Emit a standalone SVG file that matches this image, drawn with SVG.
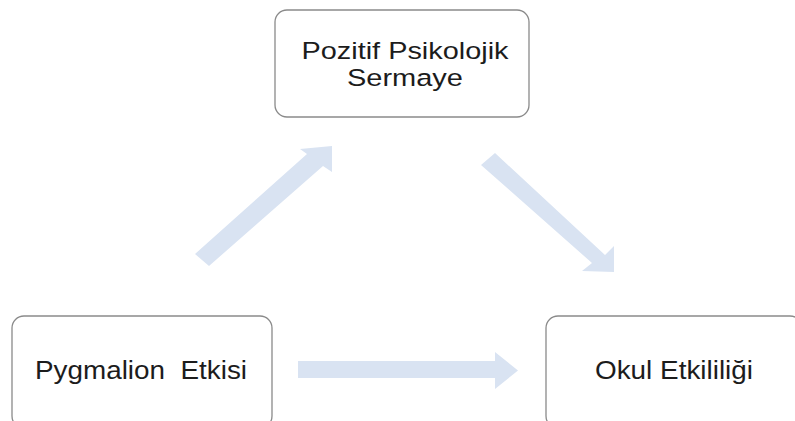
<svg xmlns="http://www.w3.org/2000/svg" width="795" height="421" viewBox="0 0 795 421">
  <style>
    .box { fill: #ffffff; stroke: #8a8a8a; stroke-width: 1.3; }
    .label { font-family: "Liberation Sans", Arial, sans-serif; font-size: 25px; fill: #1c1c1c; text-anchor: middle; }
    .tight { font-size: 24.5px; }
    .arrow { fill: #d9e3f2; stroke: none; }
  </style>
  <rect width="795" height="421" fill="#ffffff"/>

  <!-- block arrows between the three concepts -->
  <g id="connectors">
    <polygon class="arrow" points="195,254 307,154 300,149 332,146 332,172 323,166 209,266"/>
    <polygon class="arrow" points="481,165 495,153 605,255 614,246 614,272 582,271 592,263"/>
    <polygon class="arrow" points="298,361 495,361 495,352 518,370.5 495,389 495,378 298,378"/>
  </g>

  <g id="node-pozitif-psikolojik-sermaye">
    <rect class="box" x="275" y="10" width="254" height="107" rx="12" ry="12"/>
    <text class="label tight" x="405" y="58.5" textLength="207" lengthAdjust="spacingAndGlyphs">Pozitif Psikolojik</text>
    <text class="label tight" x="405" y="86" textLength="116" lengthAdjust="spacingAndGlyphs">Sermaye</text>
  </g>

  <g id="node-pygmalion-etkisi">
    <rect class="box" x="12" y="316" width="260" height="112" rx="12" ry="12"/>
    <text class="label" x="141" y="378.5" textLength="212" lengthAdjust="spacingAndGlyphs">Pygmalion&#160; Etkisi</text>
  </g>

  <g id="node-okul-etkililigi">
    <rect class="box" x="546" y="316" width="256" height="112" rx="12" ry="12"/>
    <text class="label" x="674" y="379" textLength="158" lengthAdjust="spacingAndGlyphs">Okul Etkililiği</text>
  </g>
</svg>
